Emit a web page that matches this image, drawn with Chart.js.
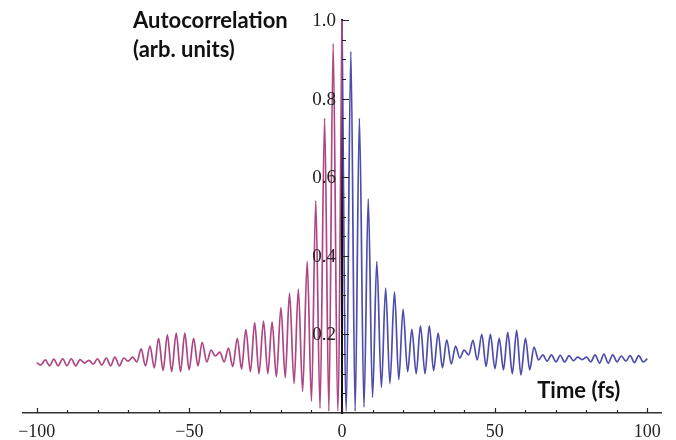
<!DOCTYPE html>
<html lang="en">
<head>
<meta charset="UTF-8">
<title>Autocorrelation</title>
<script src="https://cdn.jsdelivr.net/npm/chart.js"></script>
<style>
  html, body { margin: 0; padding: 0; background: #fff; }
  #wrap { width: 676px; height: 440px; }
</style>
</head>
<body>
<div id="wrap"><canvas id="chart"></canvas></div>
<script>
// delays (fs) of the successive maxima / minima of the fringes
const delays = [0, 1.4, 2.9, 4.3, 5.7, 7.2, 8.6, 10, 11.4, 12.9,
  14.3, 15.7, 17.2, 18.6, 20, 21.5, 22.9, 24.3, 25.7, 27.2,
  28.6, 30, 31.5, 32.9, 34.3, 35.8, 37.2, 38.6, 40, 41.5,
  42.9, 44.3, 45.8, 47.2, 48.6, 50.1, 51.5, 52.9, 54.3, 55.8,
  57.2, 58.6, 60.1, 61.5, 62.9, 64.4, 65.8, 67.2, 68.6, 70.1,
  71.5, 72.9, 74.4, 75.8, 77.2, 78.7, 80.1, 81.5, 82.9, 84.4,
  85.8, 87.2, 88.7, 90.1, 91.5, 93, 94.4, 95.8, 97.2, 98.7, 100];

// autocorrelation at those delays, positive side (blue)
const valuesPos = [1.0, 0.005, 0.92, 0.005, 0.75, 0.015, 0.545, 0.04, 0.385, 0.065,
  0.318, 0.075, 0.308, 0.085, 0.264, 0.105, 0.213, 0.1, 0.222, 0.1,
  0.222, 0.108, 0.203, 0.115, 0.186, 0.125, 0.17, 0.14, 0.16, 0.148,
  0.185, 0.135, 0.2, 0.118, 0.2, 0.113, 0.19, 0.11, 0.205, 0.1,
  0.21, 0.097, 0.19, 0.11, 0.168, 0.135, 0.148, 0.132, 0.148, 0.13,
  0.147, 0.13, 0.146, 0.133, 0.142, 0.136, 0.142, 0.13, 0.148, 0.127,
  0.15, 0.127, 0.148, 0.13, 0.145, 0.132, 0.146, 0.128, 0.146, 0.13, 0.138];

// negative side (magenta), same delays mirrored
const valuesNeg = [1.0, 0.005, 0.94, 0.005, 0.75, 0.012, 0.54, 0.03, 0.385, 0.055,
  0.315, 0.075, 0.305, 0.09, 0.268, 0.092, 0.232, 0.1, 0.234, 0.1,
  0.23, 0.105, 0.212, 0.112, 0.19, 0.118, 0.165, 0.13, 0.155, 0.145,
  0.16, 0.13, 0.18, 0.12, 0.19, 0.11, 0.203, 0.105, 0.203, 0.105,
  0.199, 0.108, 0.19, 0.115, 0.17, 0.12, 0.163, 0.13, 0.142, 0.132,
  0.14, 0.12, 0.142, 0.12, 0.14, 0.122, 0.138, 0.124, 0.134, 0.127,
  0.136, 0.12, 0.138, 0.12, 0.138, 0.12, 0.137, 0.12, 0.135, 0.122, 0.128];

const xTicks = [-100, -50, 0, 50, 100];
const yTicks = [0.2, 0.4, 0.6, 0.8, 1.0];

const posPoints = delays.map((t, i) => ({ x: t, y: valuesPos[i] }));
const negPoints = delays.map((t, i) => ({ x: -t, y: valuesNeg[i] })).reverse();

// inward ticks (Mathematica style), y labels left of the centred axis, axis titles
const axisDecor = {
  id: 'axisDecor',
  afterDraw(chart) {
    const { ctx, chartArea, scales: { x, y } } = chart;
    const x0 = x.getPixelForValue(0);
    const y0 = y.getPixelForValue(0);
    ctx.save();
    ctx.strokeStyle = '#222';
    ctx.lineWidth = 1.2;
    ctx.beginPath();
    for (let v = -100; v <= 100; v += 10) {
      const px = Math.round(x.getPixelForValue(v)) + 0.5;
      const len = v % 50 === 0 ? 5 : 3;
      ctx.moveTo(px, y0);
      ctx.lineTo(px, y0 - len);
    }
    for (let i = 1; i <= 20; i++) {
      const py = Math.round(y.getPixelForValue(i * 0.05)) + 0.5;
      const len = i % 4 === 0 ? 7 : 4;
      ctx.moveTo(x0, py);
      ctx.lineTo(x0 + len, py);
    }
    ctx.stroke();

    ctx.fillStyle = '#222';
    ctx.font = '19px "Liberation Serif"';
    ctx.textAlign = 'right';
    ctx.textBaseline = 'middle';
    yTicks.forEach(v => ctx.fillText(v.toFixed(1), x0 - 6, y.getPixelForValue(v) + 1));

    ctx.fillStyle = '#111';
    ctx.font = 'bold 22px Lato';
    ctx.textAlign = 'left';
    ctx.textBaseline = 'alphabetic';
    ctx.fillText('Autocorrelation', x0 - 209, chartArea.top + 8);
    ctx.fillText('(arb. units)', x0 - 209, chartArea.top + 37);
    ctx.textAlign = 'right';
    ctx.fillText('Time (fs)', x.getPixelForValue(100) - 27, y0 - 15);
    ctx.restore();
  }
};

new Chart(document.getElementById('chart'), {
  type: 'line',
  data: {
    datasets: [
      {
        data: negPoints,
        borderColor: '#ad4682',
        borderWidth: 1.7,
        pointRadius: 0,
        cubicInterpolationMode: 'monotone'
      },
      {
        data: posPoints,
        borderColor: '#4d4daa',
        borderWidth: 1.7,
        pointRadius: 0,
        cubicInterpolationMode: 'monotone'
      }
    ]
  },
  options: {
    responsive: true,
    maintainAspectRatio: false,
    animation: false,
    devicePixelRatio: 1,
    layout: { padding: { left: 23, right: 15, top: 20, bottom: 27 } },
    plugins: { legend: { display: false }, tooltip: { enabled: false } },
    scales: {
      x: {
        type: 'linear',
        min: -104.5,
        max: 104.5,
        position: { y: 0 },
        z: 1,
        grid: { display: false, drawTicks: false },
        border: { display: true, color: '#333', width: 1.5 },
        afterBuildTicks: s => { s.ticks = xTicks.map(v => ({ value: v })); },
        ticks: {
          padding: 8,
          color: '#222',
          font: { family: 'Liberation Serif', size: 18 },
          callback: v => (v < 0 ? '\u2212' : '') + Math.abs(v)
        }
      },
      y: {
        type: 'linear',
        min: 0,
        max: 1.0,
        position: { x: 0 },
        z: 1,
        grid: { display: false, drawTicks: false },
        border: { display: true, color: '#111', width: 2 },
        afterBuildTicks: s => { s.ticks = yTicks.map(v => ({ value: v })); },
        ticks: { display: false }
      }
    }
  },
  plugins: [axisDecor]
});
</script>
</body>
</html>
